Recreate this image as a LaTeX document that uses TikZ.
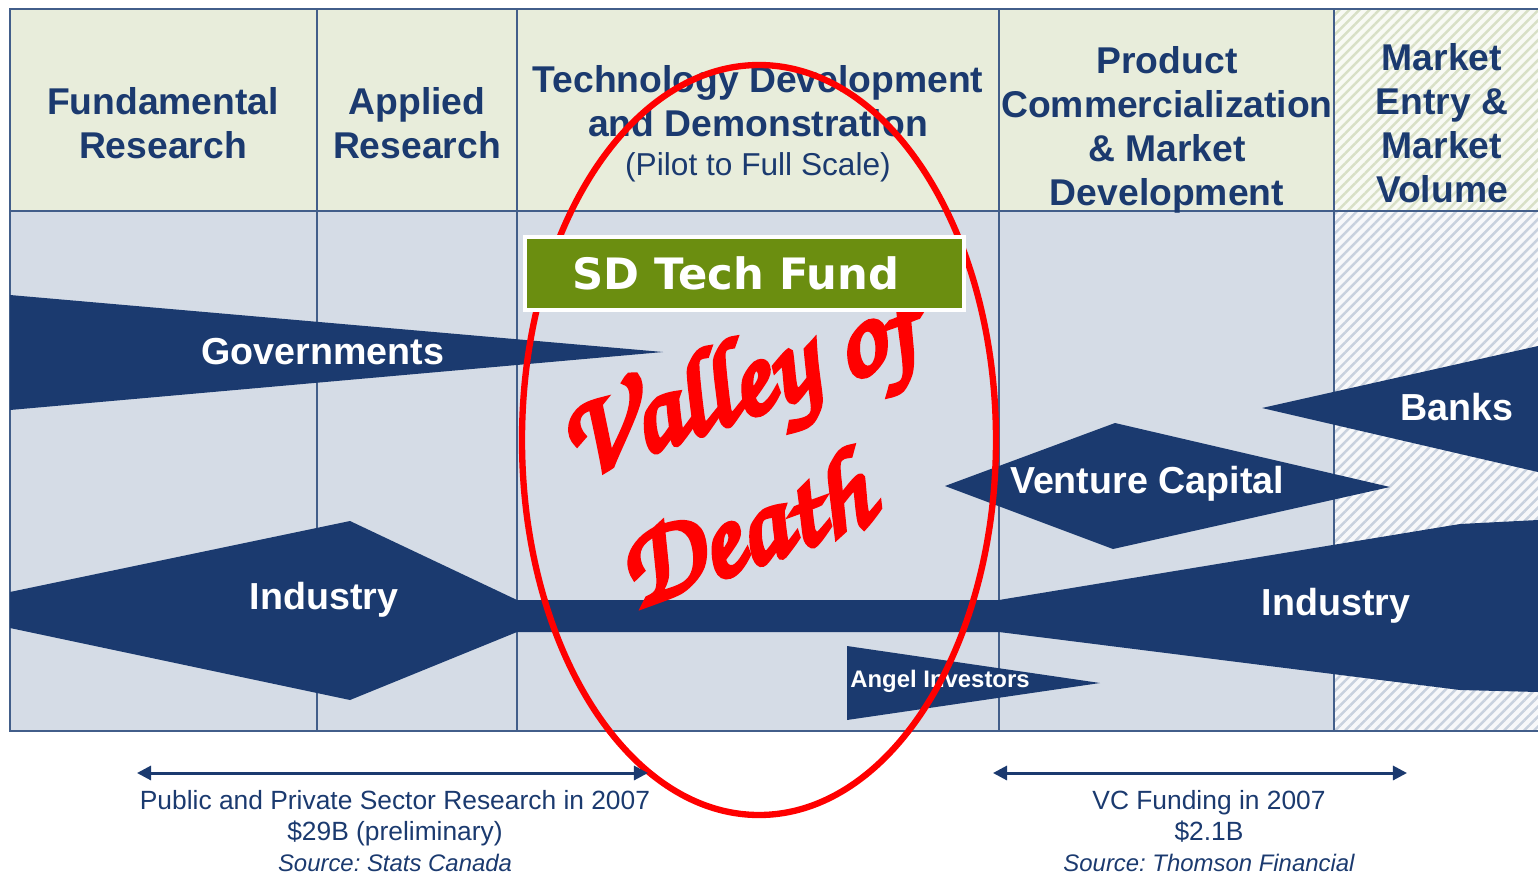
\documentclass[tikz,border=0pt]{standalone}
\usepackage[T1]{fontenc}
\usepackage{fontspec}
\setmainfont{Liberation Sans}
\newfontfamily\fundfont{DejaVu Sans}
\newcommand{\vodfont}{\fontencoding{T1}\fontfamily{pzc}\fontseries{mb}\fontshape{it}\selectfont}
\newcommand{\heavy}[1]{\special{pdf:literal direct 2 Tr 1.6 w}#1\special{pdf:literal direct 0 Tr}}
\usetikzlibrary{arrows.meta,patterns.meta}

\definecolor{navy}{RGB}{27,58,111}
\definecolor{gridc}{RGB}{66,94,138}
\definecolor{hdrfill}{RGB}{232,237,219}
\definecolor{bodyfill}{RGB}{213,220,230}
\definecolor{fundgreen}{RGB}{107,142,16}
\definecolor{vodred}{RGB}{255,0,0}
\definecolor{hatchhdr}{RGB}{216,224,198}
\definecolor{hatchbody}{RGB}{200,209,222}

\begin{document}
\begin{tikzpicture}[x=0.01cm,y=-0.01cm,
  hdr/.style={text=navy,align=center,font=\fontsize{10.6}{12.5}\selectfont\bfseries},
  lbl/.style={text=white,font=\fontsize{10.7}{13}\selectfont\bfseries},
  flow/.style={fill=navy},
  gridline/.style={draw=gridc,line width=0.5pt},
  hatchh/.style={fill=white!70!hdrfill,postaction={pattern={Lines[angle=45,distance=2pt,line width=0.7pt]},pattern color=hatchhdr}},
  hatchb/.style={fill=white!80!bodyfill,postaction={pattern={Lines[angle=45,distance=2pt,line width=0.7pt]},pattern color=hatchbody}},
  fund/.style={fill=fundgreen,draw=white,line width=1pt,text=white,minimum width=4.39cm,minimum height=0.73cm,inner sep=0pt,font=\fundfont\fontsize{12.3}{14}\selectfont\bfseries},
  vod/.style={text=vodred,rotate=20,font=\vodfont\fontsize{33}{33}\selectfont},
  span/.style={draw=navy,line width=0.85pt,{Triangle[width=4pt,length=4pt]}-{Triangle[width=4pt,length=4pt]}},
  note/.style={text=navy,align=center,font=\fontsize{7.5}{8.8}\selectfont\frenchspacing}]

  \useasboundingbox (0,0) rectangle (1538,872);

  \fill[hdrfill] (10,9) rectangle (1334,211);
  \fill[bodyfill] (10,211) rectangle (1334,731);
  \fill[hatchh] (1334,9) rectangle (1538,211);
  \fill[hatchb] (1334,211) rectangle (1538,731);
  \draw[gridline] (1538,9) -- (10,9) -- (10,731) -- (1538,731);
  \draw[gridline] (10,211) -- (1538,211);
  \foreach \x in {317,517,999,1334}
    \draw[gridline] (\x,9) -- (\x,731);

  \node[hdr] (fundam) at (163,123) {Fundamental\\Research};
  \node[hdr] (applied) at (417,123) {Applied\\Research};
  \node[hdr] (techdev) at (758,124) {Technology Development\\and Demonstration\\[-1.5pt]{\fontsize{9}{11}\selectfont\mdseries (Pilot to Full Scale)}};
  \node[hdr] (prodcom) at (1167,129.5) {Product\\Commercialization\\\& Market\\Development};
  \node[hdr] (mktent) at (1442,123.5) {Market\\Entry \&\\Market\\Volume};

  \fill[flow] (10,295) -- (663,352) -- (10,410) -- cycle;
  \fill[flow] (10,592) -- (350,521) -- (517,600) -- (999,600) -- (1460,524) -- (1538,520)
    -- (1538,692) -- (1460,690) -- (999,632) -- (517,632) -- (350,700) -- (10,628) -- cycle;
  \fill[flow] (945,486) -- (1115,423) -- (1390,487) -- (1113,549) -- cycle;
  \fill[flow] (1262,408) -- (1538,346) -- (1538,472) -- cycle;
  \fill[flow] (847,646) -- (1100,683) -- (847,720) -- cycle;

  \node[lbl] (gov) at (323,352) {Governments};
  \node[lbl] (indl) at (324,600) {Industry};
  \node[lbl] (indr) at (1336,606) {Industry};
  \node[lbl] (vc) at (1147,484) {Venture Capital};
  \node[lbl] (banks) at (1457,407) {Banks};
  \node[lbl,font=\fontsize{6.8}{8}\selectfont\bfseries] (angel) at (940,681) {Angel Investors};

  \draw[vodred,line width=1.8pt] (759,440) ellipse [x radius=237,y radius=375];
  \node[vod] (valley) at (742,394) {\heavy{Valley of}};
  \node[vod] (death) at (742,527) {\heavy{Death}};
  \node[fund] (sdtf) at (744.5,273.5) {SD Tech Fund\hspace*{0.17cm}};

  \coordinate (resL) at (137,773);
  \coordinate (resR) at (648,773);
  \coordinate (vcL) at (993,773);
  \coordinate (vcR) at (1407,773);
  \draw[span] (resL) -- (resR);
  \draw[span] (vcL) -- (vcR);

  \node[note] (resnote) at (395,831) {Public and Private Sector Research in 2007\\\$29B (preliminary)\\{\fontsize{6.8}{8.8}\selectfont\itshape Source: Stats Canada}};
  \node[note] (vcnote) at (1209,831) {VC Funding in 2007\\\$2.1B\\{\fontsize{6.8}{8.8}\selectfont\itshape Source: Thomson Financial}};
\end{tikzpicture}
\end{document}
